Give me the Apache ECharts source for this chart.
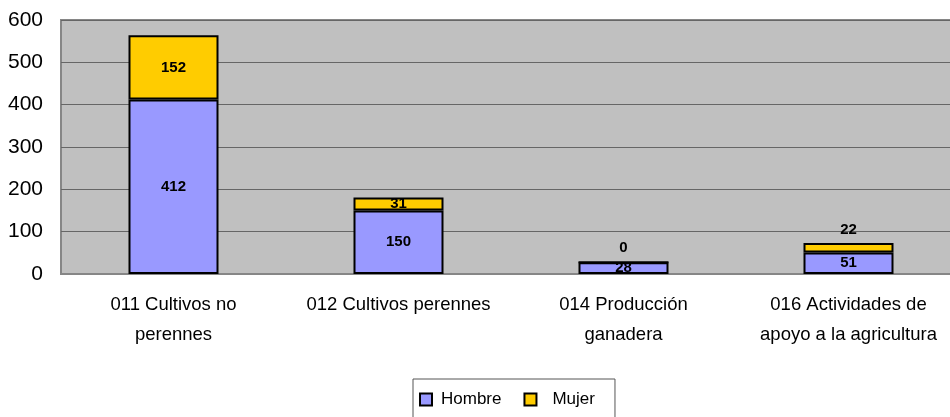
<!DOCTYPE html>
<html>
<head>
<meta charset="utf-8">
<script src="https://cdn.jsdelivr.net/npm/echarts@6/dist/echarts.min.js"></script>
<style>
  html, body { margin: 0; padding: 0; background: #fff; overflow: hidden; }
  /* the plot area runs past the right edge of the picture, as in the original */
  #chart { width: 961px; height: 417px; }
</style>
</head>
<body>
<div id="chart"></div>
<script>
const categories = [
    "011 Cultivos no\nperennes",
    "012 Cultivos perennes",
    "014 Producción\nganadera",
    "016 Actividades de\napoyo a la agricultura"
];
const hombre = [412, 150, 28, 51];
const mujer = [152, 31, 0, 22];
const yTicks = [0, 100, 200, 300, 400, 500, 600];

const FONT = "'Liberation Sans', Arial, sans-serif";

// small segments get their label above the bar, like the original
const mujerData = mujer.map(v => {
    if (v < 25) {
        return { value: v, label: { position: 'top', distance: 6 } };
    }
    return v;
});

const chart = echarts.init(document.getElementById("chart"));

const labelStyle = {
    show: true,
    position: 'inside',
    color: '#000',
    fontFamily: FONT,
    fontSize: 15,
    fontWeight: 'bold'
};

const option = {
    animation: false,
    backgroundColor: '#fff',
    grid: {
        left: 61, right: 0, top: 20, bottom: 143,
        show: true,
        backgroundColor: '#C0C0C0',
        borderColor: '#868686',
        borderWidth: 2
    },
    legend: {
        left: 413, top: 379,
        orient: 'horizontal',
        padding: [12, 20, 14, 6],
        borderColor: '#555',
        borderWidth: 1,
        icon: 'rect',
        itemWidth: 12, itemHeight: 12,
        itemGap: 22,
        textStyle: { fontFamily: FONT, fontSize: 17, color: '#000' },
        data: [
            { name: 'Hombre', textStyle: { padding: [0, 0, 0, 4] } },
            { name: 'Mujer', textStyle: { padding: [0, 0, 0, 11] } }
        ]
    },
    xAxis: {
        type: 'category',
        data: categories,
        axisLine: { lineStyle: { color: '#868686', width: 2 } },
        axisTick: { show: false },
        axisLabel: {
            interval: 0,
            margin: 16,
            color: '#000',
            fontFamily: FONT,
            fontSize: 18.5,
            lineHeight: 30
        }
    },
    yAxis: {
        type: 'value',
        min: yTicks[0],
        max: yTicks[yTicks.length - 1],
        interval: 100,
        axisLine: { show: false },
        axisTick: { show: false },
        splitLine: { lineStyle: { color: '#666', width: 1 } },
        axisLabel: {
            margin: 18,
            color: '#000',
            fontFamily: FONT,
            fontSize: 21
        }
    },
    series: [
        {
            name: 'Hombre', type: 'bar', stack: 'total',
            data: hombre, barWidth: 90,
            itemStyle: { color: '#9999FF', borderColor: '#000', borderWidth: 2 },
            label: labelStyle
        },
        {
            name: 'Mujer', type: 'bar', stack: 'total',
            data: mujerData, barWidth: 90,
            itemStyle: { color: '#FFCC00', borderColor: '#000', borderWidth: 2 },
            label: labelStyle
        }
    ]
};

chart.setOption(option);
</script>
</body>
</html>
